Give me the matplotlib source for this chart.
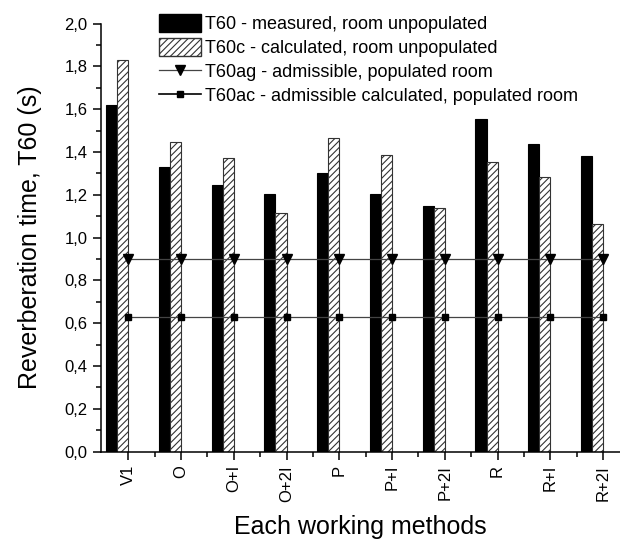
import matplotlib
matplotlib.use("Agg")
import matplotlib.pyplot as plt
import numpy as np
from matplotlib.patches import Patch
from matplotlib.lines import Line2D
from matplotlib.ticker import MultipleLocator, FuncFormatter, FixedLocator

plt.rcParams["font.family"] = ["Liberation Sans", "DejaVu Sans"]
plt.rcParams["hatch.linewidth"] = 0.8
plt.rcParams["hatch.color"] = "#555555"

methods = ["V1", "O", "O+I", "O+2I", "P", "P+I", "P+2I", "R", "R+I", "R+2I"]
t60_measured = [1.62, 1.33, 1.245, 1.205, 1.30, 1.205, 1.15, 1.555, 1.44, 1.38]
t60_calculated = [1.83, 1.445, 1.37, 1.115, 1.465, 1.385, 1.14, 1.355, 1.285, 1.065]
t60_admissible = [0.90] * 10
t60_adm_calc = [0.63] * 10

W = 0.21
x = np.arange(1, len(methods) + 1)

fig = plt.figure(figsize=(6.2, 5.44), dpi=100)
ax = fig.add_axes([0.1624, 0.1697, 0.8376, 0.7868])

ax.bar(x - 2 * W, t60_measured, width=W, align="edge", color="black",
       edgecolor="black", linewidth=0.8)
ax.bar(x - W, t60_calculated, width=W, align="edge", color="white",
       edgecolor="#333333", linewidth=0.8, hatch="/////")
ax.plot(x, t60_admissible, color="#444444", lw=0.9, marker="v", ms=6.5,
        mfc="black", mec="black")
ax.plot(x, t60_adm_calc, color="#444444", lw=0.9, marker="s", ms=5,
        mfc="black", mec="black")

ax.set_xlim(0.477, 10.32)
ax.set_ylim(0, 2.0)
for side in ("top", "right"):
    ax.spines[side].set_visible(False)
for side in ("left", "bottom"):
    ax.spines[side].set_linewidth(1.1)

ax.set_xticks(x)
ax.set_xticklabels(methods, rotation=90, fontsize=12)
ax.xaxis.set_minor_locator(FixedLocator(x[:-1] + 0.5))
ax.yaxis.set_major_locator(MultipleLocator(0.2))
ax.yaxis.set_minor_locator(MultipleLocator(0.1))
ax.yaxis.set_major_formatter(FuncFormatter(lambda v, _: f"{v:.1f}".replace(".", ",")))
ax.tick_params(axis="both", which="major", direction="out", length=6, width=1.1,
               labelsize=12)
ax.tick_params(axis="both", which="minor", direction="out", length=3.5, width=1.1)

ax.set_xlabel("Each working methods", fontsize=18, labelpad=10)
ax.set_ylabel("Reverberation time, T60 (s)", fontsize=18, labelpad=16)

handles = [
    Patch(facecolor="black", edgecolor="black"),
    Patch(facecolor="white", edgecolor="#333333", hatch="/////"),
    Line2D([], [], color="#444444", lw=0.9, marker="v", ms=6.5, mfc="black", mec="black"),
    Line2D([], [], color="black", lw=1.2, marker="s", ms=5, mfc="black", mec="black"),
]
labels = [
    "T60 - measured, room unpopulated",
    "T60c - calculated, room unpopulated",
    "T60ag - admissible, populated room",
    "T60ac - admissible calculated, populated room",
]
fig.legend(handles, labels, loc="upper left", bbox_to_anchor=(0.245, 0.988),
           frameon=False, fontsize=13, handlelength=2.3, handleheight=1.15,
           handletextpad=0.25, labelspacing=0.28, borderaxespad=0)

fig.savefig("out.png", dpi=100)
